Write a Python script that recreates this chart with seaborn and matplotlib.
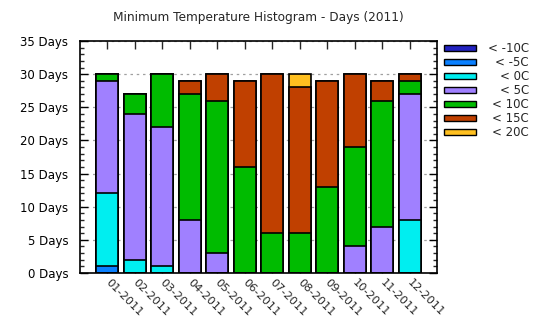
import numpy as np
import pandas as pd
import matplotlib
matplotlib.use("Agg")
import matplotlib.pyplot as plt
from matplotlib.patches import Rectangle
from matplotlib.ticker import MultipleLocator, FuncFormatter
from matplotlib.transforms import ScaledTranslation
import seaborn as sns

months = ["01-2011", "02-2011", "03-2011", "04-2011", "05-2011", "06-2011",
          "07-2011", "08-2011", "09-2011", "10-2011", "11-2011", "12-2011"]

bins = ["< -10C", "< -5C", "< 0C", "< 5C", "< 10C", "< 15C", "< 20C"]
colors = ["#2222c0", "#0a80ff", "#00eef0", "#a080ff", "#00bb00", "#c04000", "#ffc020"]

# days per month falling into each minimum-temperature bin
below_m10 = [0, 0, 0, 0, 0, 0, 0, 0, 0, 0, 0, 0]
below_m5  = [1, 0, 0, 0, 0, 0, 0, 0, 0, 0, 0, 0]
below_0   = [11, 2, 1, 0, 0, 0, 0, 0, 0, 0, 0, 8]
below_5   = [17, 22, 21, 8, 3, 0, 0, 0, 0, 4, 7, 19]
below_10  = [1, 3, 8, 19, 23, 16, 6, 6, 13, 15, 19, 2]
below_15  = [0, 0, 0, 2, 4, 13, 24, 22, 16, 11, 3, 1]
below_20  = [0, 0, 0, 0, 0, 0, 0, 2, 0, 0, 0, 0]

counts = [below_m10, below_m5, below_0, below_5, below_10, below_15, below_20]

sns.set_theme(style="white")
plt.rcParams["font.family"] = ["DejaVu Sans"]

fig = plt.figure(figsize=(5.4, 3.3), dpi=100)
ax = fig.add_axes([80 / 540, 57 / 330, 357 / 540, 232 / 330])

df = pd.DataFrame({"month": months})
cum = np.zeros(len(months))
cum_layers = []
for c in counts:
    cum = cum + np.array(c)
    cum_layers.append(cum.copy())

# stacked bars: draw cumulative totals from the top bin downwards
for i in range(len(bins) - 1, -1, -1):
    df["days"] = cum_layers[i]
    sns.barplot(data=df, x="month", y="days", color=colors[i], saturation=1,
                width=0.8, edgecolor="black", linewidth=1.2, ax=ax, zorder=2)

ax.set_xlim(-1, 12)
ax.set_ylim(0, 35)
ax.set_xlabel("")
ax.set_ylabel("")
ax.yaxis.set_major_locator(MultipleLocator(5))
ax.yaxis.set_minor_locator(MultipleLocator(1))
ax.yaxis.set_major_formatter(FuncFormatter(lambda v, p: f"{int(v)} Days"))
ax.grid(axis="y", which="major", color="#a0a0a0", linestyle=(0, (2, 3)), linewidth=0.9, zorder=0)
ax.set_axisbelow(True)

ax.tick_params(axis="y", which="major", direction="in", length=6, width=1, left=True, right=True,
               labelsize=8.5, colors="black", pad=8.5)
ax.tick_params(axis="y", which="minor", direction="in", length=3, width=1, left=True, right=True)
ax.tick_params(axis="x", which="major", direction="in", length=6, width=1, bottom=True, top=True,
               labelsize=8.2, pad=3)
ax.set_xticks(range(len(months)))
ax.set_xticklabels(months, rotation=-45, ha="left", rotation_mode="anchor")
shift = ScaledTranslation(3 / 100, 0, fig.dpi_scale_trans)
for t in ax.get_xticklabels():
    t.set_transform(t.get_transform() + shift)
for s in ax.spines.values():
    s.set_color("black")
    s.set_linewidth(1.2)

fig.text(258 / 540, 1 - 18 / 330, "Minimum Temperature Histogram - Days (2011)",
         ha="center", va="center", fontsize=8.7)

# key on the right
for k, (lab, col) in enumerate(zip(bins, colors)):
    yc = 48.3 + 14 * k
    fig.patches.append(Rectangle((444 / 540, 1 - (yc + 3) / 330), 32 / 540, 6 / 330,
                                 facecolor=col, edgecolor="black", linewidth=1,
                                 transform=fig.transFigure, figure=fig))
    fig.text(529 / 540, 1 - yc / 330, lab, ha="right", va="center", fontsize=8.5)

fig.savefig("out.png", dpi=100)
